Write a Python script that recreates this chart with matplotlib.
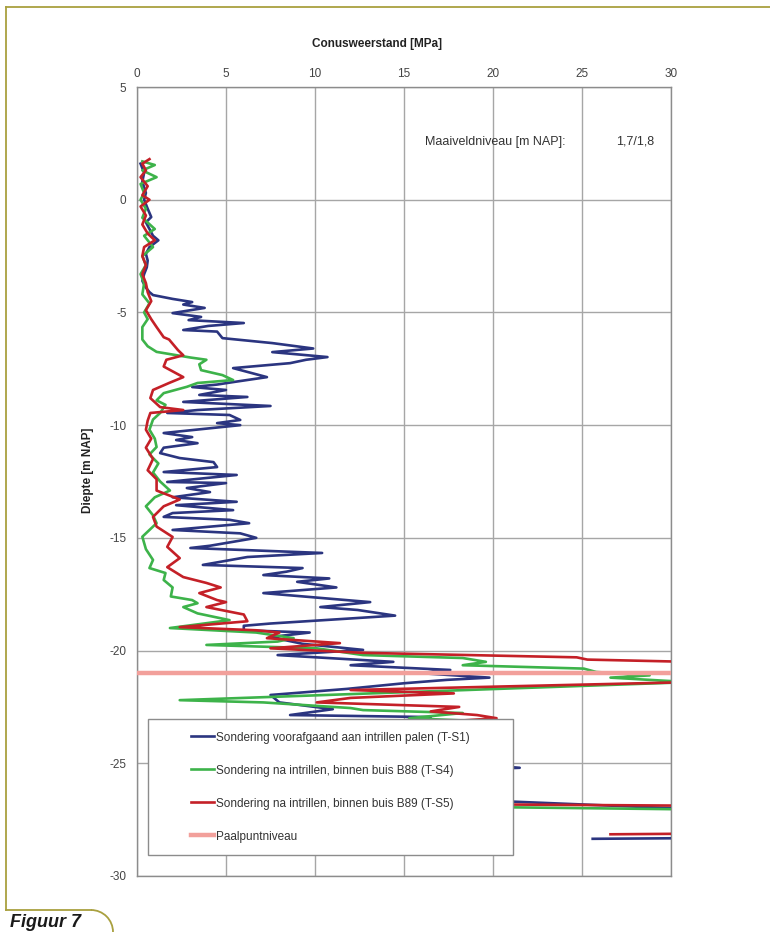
import numpy as np
import matplotlib
matplotlib.use("Agg")
import matplotlib.pyplot as plt
from matplotlib import font_manager as fm
from matplotlib.lines import Line2D
from matplotlib.patches import Arc
from matplotlib.legend_handler import HandlerLine2D

# ---------------- data ----------------
# T-S1 : sondering voorafgaand aan intrillen palen (depth [m NAP], qc [MPa])
s1_depth = [1.6, 1.2, 0.8, 0.3, 0.0, -0.4, -0.77, -1.0, -1.3, -1.6, -1.8, -2.1, -2.4, -2.7,
            -3.0, -3.3, -3.6, -3.9, -4.1, -4.23, -4.4, -4.54, -4.65, -4.8, -5.03, -5.2,
            -5.34, -5.47, -5.6, -5.78, -5.85, -6.14, -6.36, -6.6, -6.76, -6.98, -7.1,
            -7.25, -7.47, -7.64, -7.87, -8.09, -8.2, -8.31, -8.44, -8.66, -8.75, -8.97,
            -9.15, -9.33, -9.46, -9.55, -9.77, -9.91, -10.0, -10.35, -10.53, -10.66,
            -10.8, -11.0, -11.24, -11.46, -11.64, -11.86, -12.08, -12.21, -12.52, -12.57,
            -12.79, -12.97, -13.2, -13.4, -13.55, -13.77, -13.9, -14.07, -14.2, -14.35,
            -14.65, -14.8, -15.0, -15.2, -15.35, -15.45, -15.67, -15.85, -16.2, -16.34,
            -16.5, -16.65, -16.8, -16.95, -17.2, -17.45, -17.85, -18.07, -18.2, -18.45,
            -18.8, -18.9, -19.1, -19.2, -19.4, -19.7, -19.97, -20.2, -20.5, -20.65,
            -20.86, -21.0, -21.2, -21.3, -21.45, -21.7, -21.97, -22.3, -22.6, -22.86,
            -22.95, -23.1, -23.6, -24.2, -24.8, -25.2, -25.4, -26.0, -26.6, -27.15,
            -28.3, -28.35]
s1_qc = [0.2, 0.4, 0.3, 0.5, 0.4, 0.6, 0.8, 0.5, 0.7, 0.9, 1.2, 0.7, 0.5, 0.6,
         0.55, 0.4, 0.3, 0.5, 0.7, 0.9, 2.0, 3.1, 2.6, 3.8, 2.0, 3.6,
         2.9, 6.0, 4.0, 2.6, 4.5, 4.8, 7.6, 9.9, 7.6, 10.7, 9.5,
         8.6, 5.4, 6.2, 7.3, 5.4, 4.5, 3.1, 5.0, 3.5, 6.2, 2.6,
         7.5, 3.4, 1.7, 5.2, 5.8, 4.5, 5.8, 1.5, 3.1, 2.2,
         3.4, 1.5, 1.3, 2.4, 4.3, 4.5, 1.5, 5.6, 1.7, 5.0,
         2.8, 4.1, 2.0, 5.6, 2.2, 5.4, 2.0, 1.5, 5.2, 6.3,
         2.0, 5.8, 6.7, 5.2, 4.1, 3.0, 10.4, 6.2, 3.7, 9.3,
         8.4, 7.1, 10.8, 9.0, 11.2, 7.1, 13.1, 10.3, 12.4, 14.5,
         7.5, 6.0, 6.0, 9.7, 7.5, 9.3, 12.7, 7.9, 14.4, 12.0,
         17.6, 15.9, 19.8, 17.4, 15.0, 11.8, 7.5, 8.0, 11.0, 8.6,
         16.5, 15.0, 12.0, 14.0, 15.0, 21.5, 15.0, 17.0, 18.0, 35.0,
         35.0, 25.6]

# T-S4 : sondering na intrillen, binnen buis B88
s4_depth = [1.7, 1.54, 1.3, 1.0, 0.7, 0.3, 0.0, -0.4, -0.8, -1.3, -1.6, -2.1, -2.5, -2.9,
            -3.3, -3.7, -4.2, -4.6, -5.0, -5.3, -5.65, -6.2, -6.5, -6.75, -7.0, -7.1,
            -7.3, -7.56, -7.78, -8.0, -8.13, -8.3, -8.58, -8.9, -9.1, -9.46, -9.75,
            -10.2, -10.6, -10.97, -11.3, -11.7, -12.1, -12.5, -12.9, -13.2, -13.6,
            -14.0, -14.35, -14.95, -15.5, -15.98, -16.34, -16.56, -16.87, -17.2, -17.6,
            -17.76, -17.9, -18.07, -18.35, -18.65, -19.0, -19.2, -19.45, -19.6, -19.75,
            -19.9, -20.2, -20.33, -20.5, -20.65, -20.8, -20.95, -21.1, -21.2, -21.4,
            -22.2, -22.3, -22.55, -22.64, -22.77, -23.0, -23.1, -23.8, -24.6, -25.5,
            -26.3, -26.9, -27.08, -28.5]
s4_qc = [0.3, 1.0, 0.3, 1.1, 0.2, 0.4, 0.2, 0.5, 0.3, 1.0, 0.4, 0.9, 0.3, 0.5,
         0.2, 0.4, 0.3, 0.7, 0.4, 0.6, 0.3, 0.3, 0.6, 1.1, 3.0, 3.9,
         3.5, 3.6, 4.8, 5.4, 3.4, 2.8, 1.5, 1.1, 1.6, 1.3, 0.9,
         0.7, 1.0, 1.1, 0.7, 1.2, 0.9, 1.3, 1.85, 1.0, 0.5,
         0.9, 1.1, 0.3, 0.5, 0.9, 0.7, 1.6, 1.5, 2.0, 1.9,
         3.1, 3.4, 2.6, 3.4, 5.2, 1.85, 6.7, 8.8, 7.9, 3.9,
         10.1, 12.7, 18.3, 19.6, 18.3, 25.1, 25.8, 28.8, 26.6, 31.0,
         2.4, 7.1, 12.0, 12.7, 18.3, 15.3, 18.3, 14.0, 16.0, 13.0,
         15.0, 15.0, 35.0, 35.0]

# T-S5 : sondering na intrillen, binnen buis B89
s5_depth = [1.8, 1.6, 1.3, 1.0, 0.6, 0.2, 0.0, -0.3, -0.7, -1.1, -1.5, -1.8, -2.1, -2.5,
            -2.9, -3.3, -3.7, -4.1, -4.5, -4.9, -5.3, -5.65, -6.1, -6.2, -6.67, -6.9,
            -7.1, -7.4, -7.87, -8.13, -8.44, -8.8, -9.2, -9.33, -9.46, -9.8, -10.2,
            -10.6, -11.0, -11.5, -12.0, -12.4, -12.9, -13.3, -13.6, -14.07, -14.5,
            -14.96, -15.4, -15.9, -16.3, -16.74, -17.0, -17.2, -17.45, -17.76, -17.85,
            -18.07, -18.4, -18.7, -18.96, -19.1, -19.2, -19.45, -19.67, -19.9, -20.1,
            -20.3, -20.4, -20.5, -21.4, -21.75, -21.9, -22.1, -22.3, -22.5, -22.7,
            -22.86, -23.0, -23.1, -23.7, -24.5, -25.4, -26.2, -26.8, -26.9, -28.1,
            -28.15]
s5_qc = [0.7, 0.3, 0.5, 0.2, 0.6, 0.3, 0.7, 0.2, 0.5, 0.3, 0.6, 1.0, 0.4, 0.3,
         0.5, 0.3, 0.5, 0.6, 0.8, 0.5, 0.8, 1.1, 1.5, 1.8, 2.3, 2.6,
         1.65, 1.5, 2.6, 1.8, 0.9, 0.75, 1.3, 2.6, 0.75, 0.6, 0.5,
         0.8, 0.5, 0.9, 0.6, 1.1, 1.1, 2.4, 1.5, 0.9, 1.1,
         2.0, 1.7, 2.4, 1.7, 2.6, 3.9, 4.7, 3.5, 4.5, 5.0,
         3.9, 6.0, 6.2, 2.4, 6.7, 8.0, 7.3, 11.4, 7.5, 12.7,
         24.7, 25.3, 31.0, 31.0, 12.0, 17.8, 12.0, 10.1, 18.1, 16.5,
         19.1, 20.2, 18.3, 15.0, 17.0, 14.0, 16.0, 15.0, 35.0, 35.0,
         26.6]

paalpunt_depth = -21.0
series_labels = ["Sondering voorafgaand aan intrillen palen (T-S1)",
                 "Sondering na intrillen, binnen buis B88 (T-S4)",
                 "Sondering na intrillen, binnen buis B89 (T-S5)",
                 "Paalpuntniveau"]
x_ticks = [0, 5, 10, 15, 20, 25, 30]
y_ticks = [5, 0, -5, -10, -15, -20, -25, -30]

# ---------------- style ----------------
names = {f.name for f in fm.fontManager.ttflist}
FONT = "Liberation Sans Narrow" if "Liberation Sans Narrow" in names else "Liberation Sans"
plt.rcParams["font.family"] = [FONT, "DejaVu Sans"]
plt.rcParams["axes.unicode_minus"] = False

C_BLUE = "#2b3580"
C_GREEN = "#3db34a"
C_RED = "#c42027"
C_PINK = "#f2a09b"
C_GRID = "#a6a6a6"
C_FRAME = "#a9a03f"
C_TXT = "#333333"

fig = plt.figure(figsize=(7.7, 9.32), dpi=100)
W, H = 770, 932
ax = fig.add_axes([137 / W, 1 - 876 / H, (671 - 137) / W, (876 - 87) / H])

ax.set_xlim(0, 30)
ax.set_ylim(-30, 5)
ax.set_xticks(x_ticks)
ax.set_yticks(y_ticks)
ax.xaxis.tick_top()
ax.tick_params(axis="both", length=0, labelsize=8.5, colors="#444444")
ax.tick_params(axis="x", pad=5)
ax.tick_params(axis="y", pad=7.5)
ax.grid(True, color=C_GRID, linewidth=1.0)
ax.set_axisbelow(True)
for sp in ax.spines.values():
    sp.set_color("#8c8c8c")
    sp.set_linewidth(1.0)

lw = 1.9
ax.plot(s1_qc, s1_depth, color=C_BLUE, lw=lw, label=series_labels[0], zorder=3)
ax.plot(s4_qc, s4_depth, color=C_GREEN, lw=lw, label=series_labels[1], zorder=3)
ax.plot(s5_qc, s5_depth, color=C_RED, lw=lw, label=series_labels[2], zorder=3)
ax.axhline(paalpunt_depth, color=C_PINK, lw=3.2, label=series_labels[3], zorder=4)


class RightHandler(HandlerLine2D):
    def get_xdata(self, legend, xdescent, ydescent, width, height, fontsize):
        xd = np.array([-xdescent + width * 0.57, -xdescent + width])
        return xd, xd


h, l = ax.get_legend_handles_labels()
leg = ax.legend(h, l, loc="lower left",
                bbox_to_anchor=((148 - 137) / 534, (876 - 855) / 789, 365 / 534, 0.2),
                mode="expand", fontsize=8.5, frameon=True, fancybox=False,
                edgecolor="#8c8c8c", framealpha=1.0, borderpad=1.05, borderaxespad=0.0,
                labelspacing=1.78, handlelength=4.5, handletextpad=0.17,
                handler_map={Line2D: RightHandler()})
leg.get_frame().set_linewidth(1.0)
for t in leg.get_texts():
    t.set_color(C_TXT)
leg.set_zorder(10)

ax.text((425 - 137) / 534, (876 - 142) / 789, "Maaiveldniveau [m NAP]:",
        transform=ax.transAxes, fontsize=9, color=C_TXT, va="center", ha="left")
ax.text((616 - 137) / 534, (876 - 142) / 789, "1,7/1,8",
        transform=ax.transAxes, fontsize=9, color=C_TXT, va="center", ha="left")

fig.text(377 / W, 1 - 44 / H, "Conusweerstand [MPa]", ha="center", va="center",
         fontsize=8.5, fontweight="bold", color="#222222")
fig.text(88 / W, 1 - 470 / H, "Diepte [m NAP]", ha="center", va="center",
         rotation=90, fontsize=8.5, fontweight="bold", color="#222222")

# page frame
fig.add_artist(Line2D([6 / W, 6 / W], [1 - 7 / H, 1 - 910 / H], color=C_FRAME,
                      lw=1.3, transform=fig.transFigure))
fig.add_artist(Line2D([6 / W, 1.0], [1 - 7 / H, 1 - 7 / H], color=C_FRAME,
                      lw=1.3, transform=fig.transFigure))
fig.add_artist(Line2D([6 / W, 91 / W], [1 - 910 / H, 1 - 910 / H], color=C_FRAME,
                      lw=1.3, transform=fig.transFigure))
fig.add_artist(Arc((91 / W, 0.0), 44 / W, 44 / H, theta1=0, theta2=90,
                   color=C_FRAME, lw=1.3, transform=fig.transFigure))
fig.text(10 / W, 1 / H, "Figuur 7", ha="left", va="bottom", fontsize=13,
         fontweight="bold", fontstyle="italic", color="#1a1a1a",
         family=["Liberation Sans", "DejaVu Sans"])

fig.savefig("out.png", dpi=100)
